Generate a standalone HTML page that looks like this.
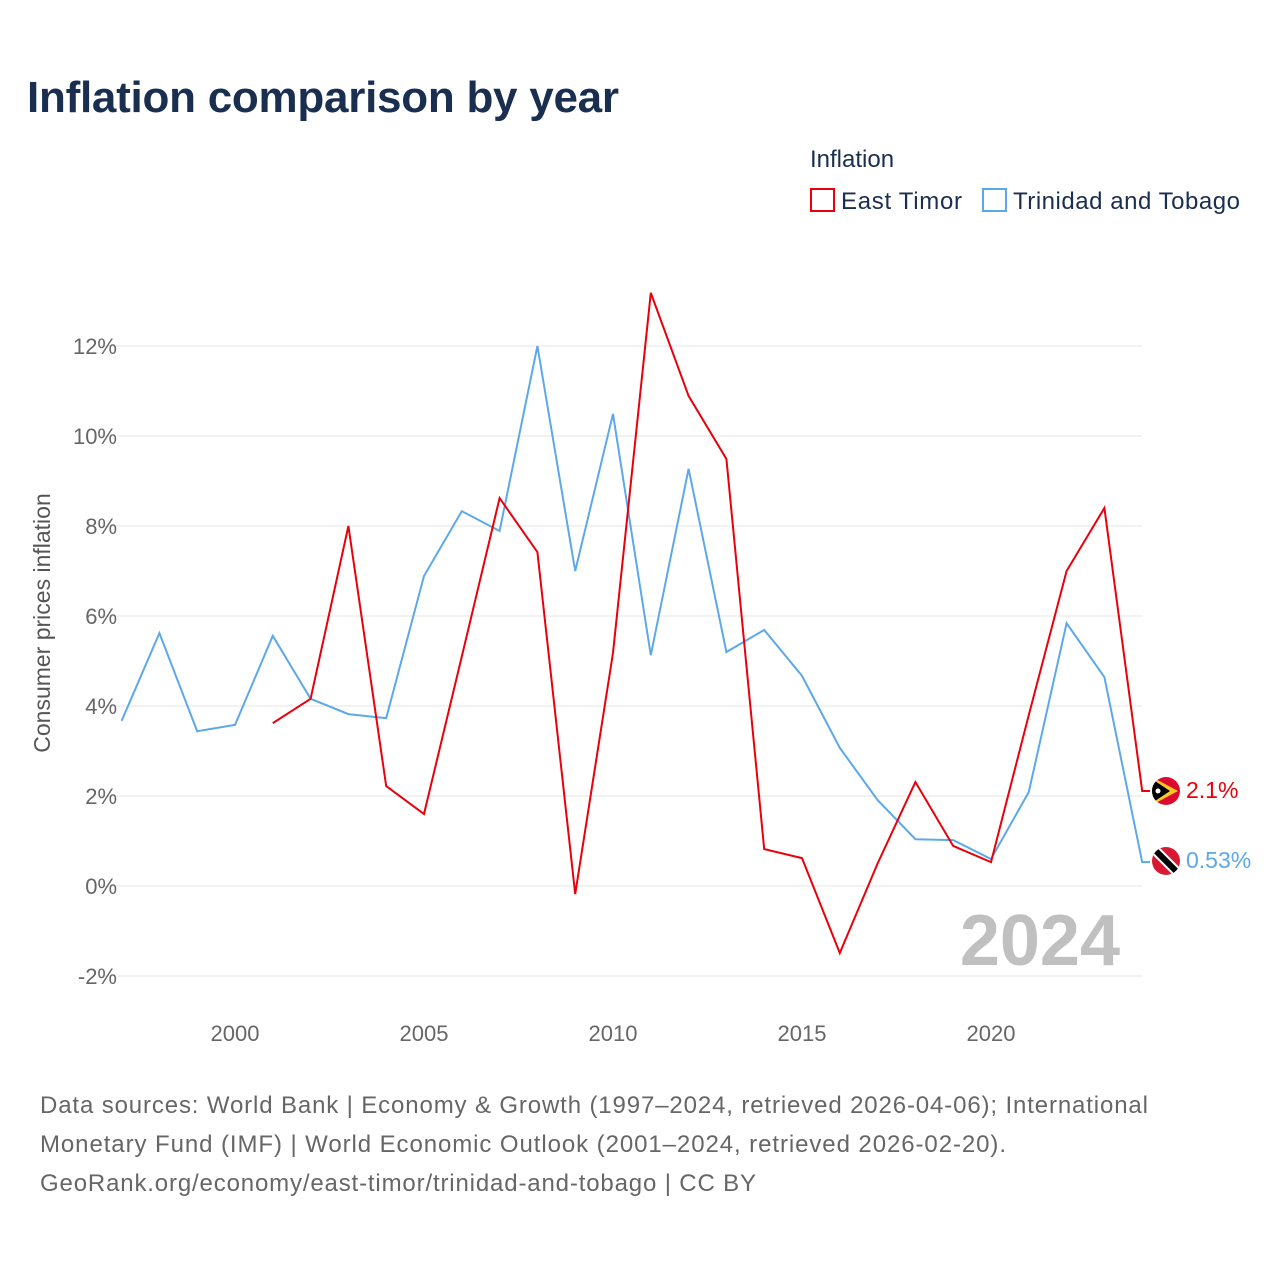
<!DOCTYPE html>
<html><head><meta charset="utf-8"><style>
body{margin:0;background:#fff;font-family:"Liberation Sans",sans-serif;}
</style></head><body>
<svg width="1280" height="1280" xmlns="http://www.w3.org/2000/svg">
<text x="27" y="112" font-size="44" font-weight="bold" fill="#1a2e4f" textLength="592">Inflation comparison by year</text>
<text x="810" y="167" font-size="24" fill="#1a2e4f">Inflation</text>
<g><rect x="811" y="189" width="23" height="22" fill="none" stroke="#e8000b" stroke-width="2"/><text x="841" y="209" font-size="24" fill="#1a2e4f" textLength="121">East Timor</text></g>
<g><rect x="983" y="189" width="23" height="22" fill="none" stroke="#5da8ea" stroke-width="2"/><text x="1013" y="209" font-size="24" fill="#1a2e4f" textLength="227">Trinidad and Tobago</text></g>
<g id="grid"></g><g id="yt"></g><g id="xt"></g>
<text transform="translate(50,623) rotate(-90)" text-anchor="middle" font-size="23" fill="#555">Consumer prices inflation</text>
<text x="1120" y="965" text-anchor="end" font-size="72" font-weight="bold" fill="#c0c0c0">2024</text>
<g id="series"></g>
<g><clipPath id="c1"><circle cx="1166" cy="791" r="14"/></clipPath><g clip-path="url(#c1)"><rect x="1150" y="775" width="32" height="32" fill="#dc0a2e"/><polygon points="1152,777 1178,791 1152,805" fill="#ffc726"/><polygon points="1152,779 1170,791 1152,803" fill="#000"/><circle cx="1158" cy="791" r="2.5" fill="#fff"/></g></g>
<g><clipPath id="c2"><circle cx="1166" cy="861" r="14"/></clipPath><g clip-path="url(#c2)"><rect x="1150" y="845" width="32" height="32" fill="#da1a35"/><line x1="1152" y1="847" x2="1180" y2="875" stroke="#fff" stroke-width="10"/><line x1="1152" y1="847" x2="1180" y2="875" stroke="#000" stroke-width="6"/></g></g>
<text x="1186" y="798" font-size="23" fill="#e8000b">2.1%</text>
<text x="1186" y="868" font-size="23" fill="#5da8ea">0.53%</text>
<g font-size="24" fill="#666">
<text x="40" y="1113" textLength="1108">Data sources: World Bank | Economy &amp; Growth (1997–2024, retrieved 2026-04-06); International</text>
<text x="40" y="1152" textLength="966">Monetary Fund (IMF) | World Economic Outlook (2001–2024, retrieved 2026-02-20).</text>
<text x="40" y="1191" textLength="716">GeoRank.org/economy/east-timor/trinidad-and-tobago | CC BY</text>
</g>
</svg>
<script>
const yearsTT=[1997,1998,1999,2000,2001,2002,2003,2004,2005,2006,2007,2008,2009,2010,2011,2012,2013,2014,2015,2016,2017,2018,2019,2020,2021,2022,2023,2024];
const valuesTT=[3.67,5.62,3.44,3.58,5.56,4.16,3.82,3.73,6.89,8.33,7.89,12.0,7.0,10.49,5.13,9.27,5.2,5.69,4.67,3.07,1.91,1.04,1.02,0.6,2.09,5.84,4.64,0.53];
const yearsET=[2001,2002,2003,2004,2005,2006,2007,2008,2009,2010,2011,2012,2013,2014,2015,2016,2017,2018,2019,2020,2021,2022,2023,2024];
const valuesET=[3.62,4.16,8.0,2.22,1.6,5.1,8.62,7.42,-0.18,5.18,13.18,10.89,9.49,0.82,0.62,-1.49,0.5,2.31,0.89,0.53,3.8,7.0,8.4,2.11];
const yTicks=[-2,0,2,4,6,8,10,12];
const xTicks=[2000,2005,2010,2015,2020];
const NS="http://www.w3.org/2000/svg";
const X=y=>121.6+(y-1997)*37.8, Y=v=>886-v*45;
function mk(t,a,p){const e=document.createElementNS(NS,t);for(const k in a)e.setAttribute(k,a[k]);document.getElementById(p).appendChild(e);return e;}
yTicks.forEach(v=>{
 const l=mk('line',{x1:100,x2:1142,y1:Y(v),y2:Y(v),stroke:'#e6e6e6','stroke-width':1},'grid');
 
 
 const t=mk('text',{x:117,y:Y(v)+8,'text-anchor':'end','font-size':22,fill:'#666'},'yt');
 t.textContent=v+'%';
 
 
});
xTicks.forEach(v=>{
 const t=mk('text',{x:X(v),y:1041,'text-anchor':'middle','font-size':22,fill:'#666'},'xt');
 t.textContent=v;
 
 
});
function line(ys,vs,c,name){
 let pts=ys.map((y,i)=>X(y)+','+Y(vs[i]));
 const last=vs[vs.length-1];
 pts.push('1150,'+Y(last));
 const p=mk('polyline',{points:pts.join(' '),fill:'none',stroke:c,'stroke-width':2},'series');
 
 
}
line(yearsTT,valuesTT,'#5da8ea','line-trinidad');
line(yearsET,valuesET,'#e8000b','line-east-timor');
</script>
</body></html>
